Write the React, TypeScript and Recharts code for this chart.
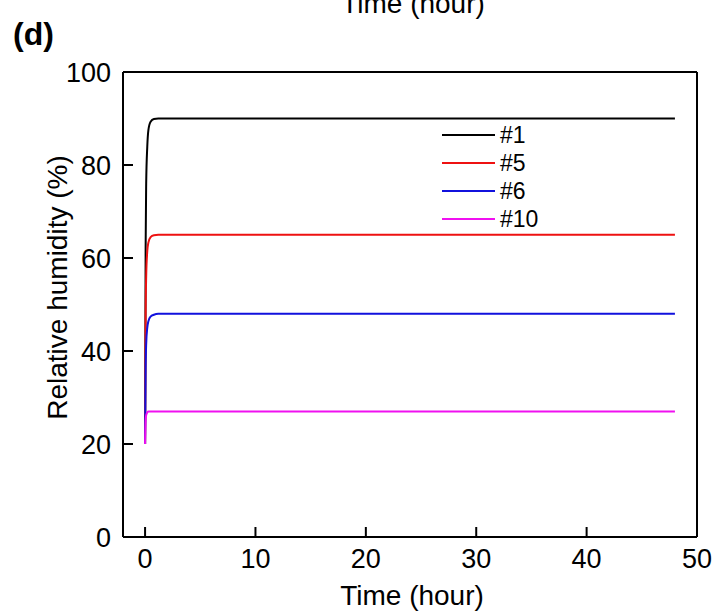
import React from "react";
import { LineChart, Line, XAxis, YAxis, Legend } from "recharts";

// ---- data ----
const timeHours = [0, 0.05, 0.1, 0.2, 0.3, 0.5, 0.8, 1.2, 2, 48];
const rh1 = [20, 62, 76, 84, 87.5, 89.3, 89.9, 90, 90, 90];
const rh5 = [20, 48, 56, 61.5, 63.3, 64.5, 64.9, 65, 65, 65];
const rh6 = [20, 36, 41.5, 45, 46.4, 47.4, 47.8, 48, 48, 48];
const rh10 = [20, 25, 26.2, 26.8, 27, 27, 27, 27, 27, 27];
const xTicks = [0, 10, 20, 30, 40, 50];
const yTicks = [0, 20, 40, 60, 80, 100];
const seriesNames = ["#1", "#5", "#6", "#10"];
const seriesKeys = ["s1", "s5", "s6", "s10"];
const seriesColors = ["#000000", "#ee1111", "#1111dd", "#f010f0"];

const data = timeHours.map((t, i) => ({
  t,
  s1: rh1[i],
  s5: rh5[i],
  s6: rh6[i],
  s10: rh10[i],
}));

const FONT = "'Liberation Sans', Arial, sans-serif";

const LegendBox = () => (
  <div style={{ fontFamily: FONT }}>
    {seriesNames.map((n, i) => (
      <div key={n} style={{ display: "flex", alignItems: "center", height: 28 }}>
        <div style={{ width: 53, height: 2, background: seriesColors[i] }} />
        <span style={{ marginLeft: 5, fontSize: 23, color: "#000", lineHeight: "28px" }}>{n}</span>
      </div>
    ))}
  </div>
);

const YLabel = (props: any) => {
  const vb = props.viewBox || {};
  const cx = vb.x + 67;
  const cy = vb.y + vb.height / 2 - 17;
  return (
    <text
      x={cx}
      y={cy}
      transform={`rotate(-90, ${cx}, ${cy})`}
      textAnchor="middle"
      fontSize={28}
      fontFamily={FONT}
      fill="#000"
    >
      Relative humidity (%)
    </text>
  );
};

const XLabel = (props: any) => {
  const vb = props.viewBox || {};
  return (
    <text
      x={vb.x + vb.width / 2 + 2}
      y={vb.y + 68}
      textAnchor="middle"
      fontSize={28}
      fontFamily={FONT}
      fill="#000"
    >
      Time (hour)
    </text>
  );
};

export default function App() {
  return (
    <div style={{ position: "absolute", left: 0, top: 0, width: 720, height: 613, background: "#fff" }}>
      <LineChart
        width={720}
        height={613}
        data={data}
        margin={{ top: 71, right: 22, bottom: 0, left: 0 }}
      >
        <XAxis
          xAxisId="b"
          dataKey="t"
          type="number"
          domain={[-2, 50]}
          ticks={xTicks}
          allowDataOverflow
          height={76}
          axisLine={{ stroke: "#000", strokeWidth: 2 }}
          tickLine={{ stroke: "#000", strokeWidth: 2 }}
          tickSize={-10}
          tickMargin={22}
          tick={{ fill: "#000", fontSize: 27, fontFamily: FONT }}
          label={<XLabel />}
        />
        <XAxis
          xAxisId="top"
          orientation="top"
          type="number"
          domain={[-2, 50]}
          height={1}
          tick={false}
          tickLine={false}
          axisLine={{ stroke: "#000", strokeWidth: 2 }}
        />
        <YAxis
          yAxisId="l"
          type="number"
          domain={[0, 100]}
          ticks={yTicks}
          width={123}
          axisLine={{ stroke: "#000", strokeWidth: 2 }}
          tickLine={{ stroke: "#000", strokeWidth: 2 }}
          tickSize={-10}
          tickMargin={22}
          tick={{ fill: "#000", fontSize: 27, fontFamily: FONT }}
          label={<YLabel />}
        />
        <YAxis
          yAxisId="r"
          orientation="right"
          type="number"
          domain={[0, 100]}
          width={1}
          tick={false}
          tickLine={false}
          axisLine={{ stroke: "#000", strokeWidth: 2 }}
        />
        <Legend
          layout="vertical"
          align="center"
          verticalAlign="middle"
          content={<LegendBox />}
          wrapperStyle={{ position: "absolute", left: 442, top: 121, width: 120 }}
        />
        {seriesKeys.map((k, i) => (
          <Line
            key={k}
            xAxisId="b"
            yAxisId="l"
            dataKey={k}
            name={seriesNames[i]}
            type="monotone"
            stroke={seriesColors[i]}
            strokeWidth={2}
            dot={false}
            isAnimationActive={false}
          />
        ))}
      </LineChart>
      <svg
        width={720}
        height={613}
        style={{ position: "absolute", left: 0, top: 0, pointerEvents: "none" }}
      >
        <text x={13} y={45} fontSize={32} fontWeight="bold" fontFamily={FONT} fill="#000">
          (d)
        </text>
        <text x={413} y={13} textAnchor="middle" fontSize={28} fontFamily={FONT} fill="#000">
          Time (hour)
        </text>
      </svg>
    </div>
  );
}
